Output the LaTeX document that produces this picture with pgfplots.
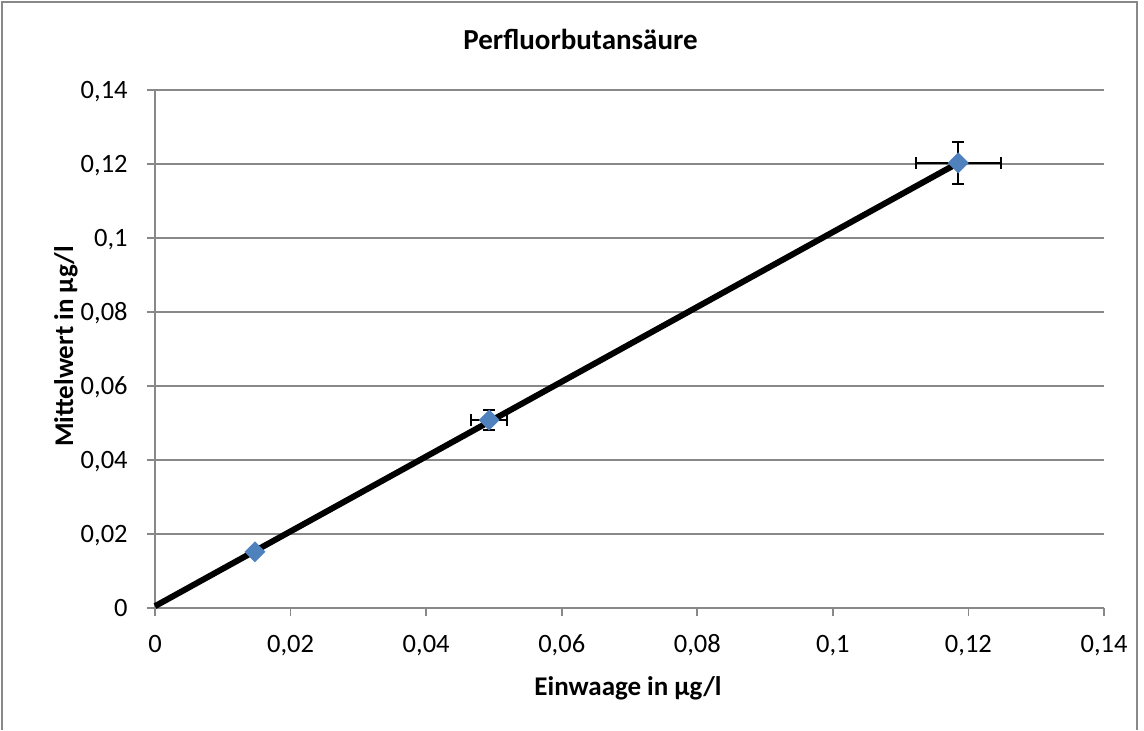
\documentclass[border=0pt]{standalone}
\usepackage{pgfplots}
\pgfplotsset{compat=1.18}
\usepackage{fontspec}
\setmainfont{Carlito}
\definecolor{exblue}{HTML}{4F81BD}
\definecolor{gridgray}{HTML}{888888}
\begin{document}
\begin{tikzpicture}
\path[use as bounding box] (0,0) rectangle (572pt,-365pt);
\draw[gridgray, line width=0.8pt] (1pt,-365pt) -- (1pt,-1pt) -- (568.5pt,-1pt) -- (568.5pt,-365pt);
\begin{axis}[
  at={(77.5pt,-304pt)}, anchor=south west,
  scale only axis, width=474.5pt, height=259pt,
  xmin=0, xmax=0.14, ymin=0, ymax=0.14,
  xtick={0,0.02,0.04,0.06,0.08,0.1,0.12,0.14},
  ytick={0,0.02,0.04,0.06,0.08,0.1,0.12,0.14},
  xticklabels={0,{0,02},{0,04},{0,06},{0,08},{0,1},{0,12},{0,14}},
  yticklabels={0,{0,02},{0,04},{0,06},{0,08},{0,1},{0,12},{0,14}},
  axis x line*=bottom, axis y line*=left,
  axis line style={gridgray, line width=0.8pt, -},
  tick align=outside, major tick length=4pt,
  tick style={gridgray, line width=0.8pt},
  ymajorgrids, major grid style={gridgray, line width=0.8pt},
  ticklabel style={font=\fontsize{13.25}{15}\selectfont, text=black},
  xticklabel style={anchor=base, yshift=-18pt},
  yticklabel style={anchor=base east, inner xsep=0pt, xshift=-9.5pt, yshift=-4.2pt},
  xlabel={\textbf{Einwaage in µg/l}},
  ylabel={\textbf{Mittelwert in µg/l}},
  xlabel style={font=\fontsize{13.5}{16}\selectfont, at={(axis description cs:0.4984,-0.168)}, anchor=base},
  ylabel style={font=\fontsize{13.5}{16}\selectfont, at={(axis description cs:-0.0864,0.505)}, anchor=base},
  title={\textbf{Perfluorbutansäure}},
  title style={font=\fontsize{14.5}{17}\selectfont, at={(axis description cs:0.4484,1.056)}, anchor=base},
  clip=false,
]
\addplot[black, line width=3pt, no marks] coordinates {(0,0.0005) (0.1185,0.1203)};
\addplot[only marks, mark=square*, mark size=3.5pt, mark options={rotate=45, fill=exblue, draw=exblue},
  error bars/.cd, x dir=both, x explicit, y dir=both, y explicit,
  error bar style={black, line width=1pt}, error mark options={rotate=90, black, line width=1pt, mark size=3pt}]
  coordinates {
  (0.01475,0.0152) +- (0,0)
  (0.0493,0.0508) +- (0.0027,0.0026)
  (0.1185,0.1203) +- (0.0063,0.0057)
};
\end{axis}
\end{tikzpicture}
\end{document}
